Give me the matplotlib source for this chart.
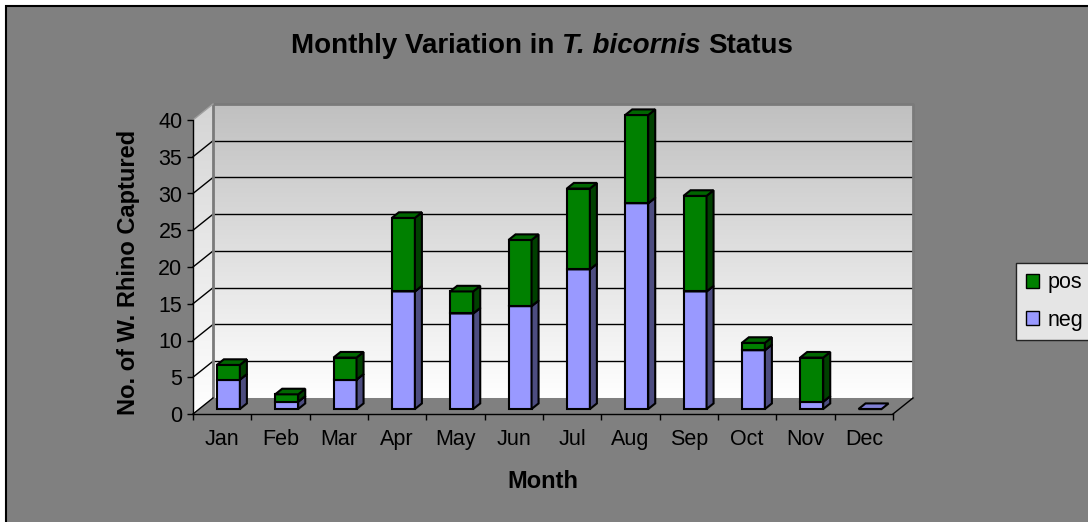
import numpy as np
import matplotlib
matplotlib.use("Agg")
import matplotlib.pyplot as plt
from matplotlib.patches import Polygon, Rectangle, Patch
from matplotlib.colors import LinearSegmentedColormap

plt.rcParams['font.family'] = ['Liberation Sans', 'DejaVu Sans']

# data
months = ['Jan', 'Feb', 'Mar', 'Apr', 'May', 'Jun',
          'Jul', 'Aug', 'Sep', 'Oct', 'Nov', 'Dec']
neg = [4, 1, 4, 16, 13, 14, 19, 28, 16, 8, 1, 0]
pos = [2, 1, 3, 10, 3, 9, 11, 12, 13, 1, 6, 0]
y_ticks = [0, 5, 10, 15, 20, 25, 30, 35, 40]

W, H = 1088, 522
BG = '#808080'

# pseudo-3d depth (in data units) and bar geometry
DX, DY = 0.343, 2.18
F0, F1 = 0.31, 0.66
BW = 0.395

seg_colors = {
    'neg': ('#9999FF', '#4D4D80', '#7F7FD4'),
    'pos': ('#008000', '#004000', '#006600'),
}

fig = plt.figure(figsize=(W / 100, H / 100), dpi=100)
fig.patch.set_facecolor('white')
fig.add_artist(Rectangle((6 / W, -0.1), 1.1, (H - 6) / H + 0.1,
                         transform=fig.transFigure, facecolor=BG,
                         edgecolor='black', lw=1.5, zorder=-10))

ax = fig.add_axes([193 / W, (H - 414) / H, 700 / W, 294 / H])
ax.patch.set_visible(False)
for s in ['top', 'right']:
    ax.spines[s].set_visible(False)
for s in ['left', 'bottom']:
    ax.spines[s].set_color('black')
    ax.spines[s].set_linewidth(1)

x0, x1 = -0.5, len(months) - 0.5
ymax = y_ticks[-1]

# walls with gradient
grad = np.linspace(0, 1, 256).reshape(-1, 1)
back_cmap = LinearSegmentedColormap.from_list('bw', ['#FFFFFF', '#C0C0C0'])
side_cmap = LinearSegmentedColormap.from_list('sw', ['#FFFFFF', '#D4D4D4'])
ax.imshow(grad, cmap=back_cmap, origin='lower', aspect='auto',
          extent=(x0 + DX, x1 + DX, DY, ymax + DY), clip_on=False, zorder=0)
side = Polygon([(x0, 0), (x0 + DX, DY), (x0 + DX, ymax + DY), (x0, ymax)],
               closed=True, facecolor='none', edgecolor='none', clip_on=False)
ax.add_patch(side)
im = ax.imshow(grad, cmap=side_cmap, origin='lower', aspect='auto',
               extent=(x0, x0 + DX, 0, ymax + DY), zorder=0)
im.set_clip_box(fig.bbox)
im.set_clip_path(side)

# gridlines on back and side wall
for v in y_ticks[1:-1]:
    ax.plot([x0 + DX, x1 + DX], [v + DY, v + DY], color='black', lw=1,
            clip_on=False, zorder=1)
    ax.plot([x0, x0 + DX], [v, v + DY], color='black', lw=1,
            clip_on=False, zorder=1)
# wall borders
ax.plot([x0 + DX, x0 + DX, x1 + DX, x1 + DX],
        [DY, ymax + DY, ymax + DY, DY], color='#7A7A7A', lw=2,
        clip_on=False, zorder=1)
ax.plot([x0, x0 + DX], [ymax, ymax + DY], color='#A0A0A0', lw=1,
        clip_on=False, zorder=1)

# floor
ax.add_patch(Polygon([(x0, 0), (x1, 0), (x1 + DX, DY), (x0 + DX, DY)],
                     closed=True, facecolor=BG, edgecolor='none',
                     clip_on=False, zorder=1))
ax.plot([x0, x0 + DX], [0, DY], color='black', lw=1, clip_on=False, zorder=2)
ax.plot([x1, x1 + DX], [0, DY], color='black', lw=1, clip_on=False, zorder=2)

# stacked 3d bars
xs = np.arange(len(months))
bottoms = np.zeros(len(months))
z = 3
for name, vals in [('neg', neg), ('pos', pos)]:
    front, sidec, topc = seg_colors[name]
    vals = np.array(vals, dtype=float)
    ax.bar(xs + F0 * DX, vals, bottom=bottoms + F0 * DY, width=BW,
           color=front, edgecolor='black', lw=1.5, zorder=z, clip_on=False)
    for i, (b, h) in enumerate(zip(bottoms, vals)):
        if h == 0 and name == 'pos':
            continue
        r = xs[i] + F0 * DX + BW / 2
        l = xs[i] + F0 * DX - BW / 2
        ddx, ddy = (F1 - F0) * DX, (F1 - F0) * DY
        yb, yt = b + F0 * DY, b + h + F0 * DY
        if h > 0:
            ax.add_patch(Polygon([(r, yb), (r + ddx, yb + ddy),
                                  (r + ddx, yt + ddy), (r, yt)],
                                 closed=True, facecolor=sidec,
                                 edgecolor='black', lw=1.5, zorder=z,
                                 clip_on=False))
        ax.add_patch(Polygon([(l, yt), (r, yt), (r + ddx, yt + ddy),
                              (l + ddx, yt + ddy)],
                             closed=True, facecolor=topc,
                             edgecolor='black', lw=1.5, zorder=z,
                             clip_on=False))
    bottoms = bottoms + vals
    z += 1

ax.set_xlim(x0, x1)
ax.set_ylim(0, ymax)

ax.set_yticks(y_ticks)
ax.tick_params(axis='y', direction='out', length=4.3, width=1, pad=3.4,
               labelsize=15.5, colors='black')
ax.set_xticks(np.arange(x0, x1 + 0.01, 1))
ax.set_xticklabels([])
ax.set_xticks(xs, minor=True)
ax.set_xticklabels(months, minor=True)
ax.tick_params(axis='x', which='major', direction='out', length=4.3, width=1)
ax.tick_params(axis='x', which='minor', length=0, pad=10.5, labelsize=15.5)

# axis titles
fig.text(128 / W, 1 - 272 / H, 'No. of W. Rhino Captured', rotation=90,
         ha='center', va='center', fontsize=17, fontweight='bold')
fig.text(543 / W, 1 - 481 / H, 'Month', ha='center', va='center',
         fontsize=17, fontweight='bold')

# title in three pieces (middle one italic)
parts = [('Monthly Variation in', 'normal'), ('T. bicornis', 'italic'),
         ('Status', 'normal')]
TS = 20
renderer = fig.canvas.get_renderer()
tmp = fig.text(0, 0, 'a a', fontsize=TS, fontweight='bold')
w_aa = tmp.get_window_extent(renderer).width
tmp.set_text('aa')
space = w_aa - tmp.get_window_extent(renderer).width
tmp.remove()
widths = []
for txt, st in parts:
    t = fig.text(0, 0, txt, fontsize=TS, fontweight='bold', style=st)
    widths.append(t.get_window_extent(renderer).width)
    t.remove()
total = sum(widths) + space * (len(parts) - 1)
xpos = 542 - total / 2
for (txt, st), wpx in zip(parts, widths):
    fig.text(xpos / W, 1 - 53 / H, txt, fontsize=TS, fontweight='bold',
             style=st, ha='left', va='baseline')
    xpos += wpx + space

# legend
handles = [Patch(facecolor=seg_colors['pos'][0], edgecolor='black', lw=1),
           Patch(facecolor=seg_colors['neg'][0], edgecolor='black', lw=1)]
leg = fig.legend(handles, ['pos', 'neg'], loc='center left',
                 bbox_to_anchor=(1016 / W, 1 - 301.5 / H), fontsize=15.5,
                 frameon=True, fancybox=False, edgecolor='black',
                 handlelength=0.6, handleheight=0.6, handletextpad=0.4,
                 labelspacing=0.75, borderpad=0.45, borderaxespad=0)
leg.get_frame().set_linewidth(1)
leg.get_frame().set_facecolor('white')

fig.savefig('out.png', dpi=100, facecolor=fig.get_facecolor())
